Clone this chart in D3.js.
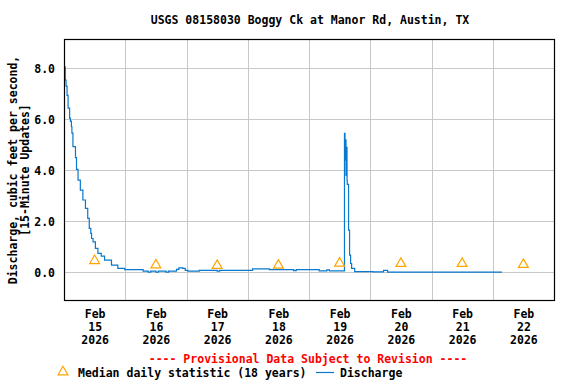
<!DOCTYPE html>
<html>
<head>
<meta charset="utf-8">
<script src="https://cdn.jsdelivr.net/npm/d3@7"></script>
<style>
  body { margin: 0; background: #fff; }
  text { font-family: "DejaVu Sans Mono", "Liberation Mono", monospace; font-weight: bold; fill: #000; }
</style>
</head>
<body>
<div id="vis"></div>
<script>
// hours after Feb 15 2026 00:00, discharge in cfs
var flowHours = [0.3, 0.5, 0.8, 1.2, 1.6, 2.2, 2.5, 2.9, 3.1, 3.5, 4.5, 4.9, 5.5, 6.4, 7.4, 8.4, 9.3, 9.9, 10.5, 10.8, 11.4, 12.3, 13.3, 14.6, 15.9, 18.6, 21.1, 23.8,
    31, 33, 34, 36, 37, 40, 41, 44.1, 45, 46.5, 47.5, 48.5, 53, 60, 61, 73.9, 80.5, 90, 91, 100, 103, 104, 106,
    109.9, 110.1, 110.3, 110.5, 110.7, 110.9, 111.0, 111.5, 111.9, 112.3, 112.7, 113.9, 121, 125.2, 126.8, 171.6];
var flowValues = [8.06, 7.54, 7.30, 6.94, 6.44, 6.05, 5.93, 5.71, 5.46, 4.93, 4.50, 4.04, 3.62, 3.23, 2.84, 2.51, 2.12, 1.73, 1.53, 1.33, 1.20, 0.94, 0.75, 0.64, 0.48, 0.29, 0.16, 0.11,
    0.05, 0.01, 0.05, 0.01, 0.05, 0.01, 0.05, 0.12, 0.18, 0.16, 0.08, 0.05, 0.08, 0.05, 0.08, 0.14, 0.11, 0.07, 0.11, 0.06, 0.10, 0.06, 0.06,
    5.45, 4.4, 5.2, 3.8, 4.9, 3.6, 3.45, 1.66, 0.68, 0.35, 0.16, 0.03, 0.02, 0.08, 0.01, 0.01];

var medianDays = [15, 16, 17, 18, 19, 20, 21, 22];
var medianValues = [0.46, 0.29, 0.27, 0.28, 0.36, 0.35, 0.35, 0.31];

var yTicks = [0, 2, 4, 6, 8];
var dayTicks = [15, 16, 17, 18, 19, 20, 21, 22];
var gridDays = [16, 17, 18, 19, 20, 21, 22];

var W = 576, H = 384;
var margin = { top: 39, left: 64, right: 22, bottom: 84 };
var width = W - margin.left - margin.right;
var height = H - margin.top - margin.bottom;

function day(d, h) { return new Date(2026, 1, d, 0, 0) .getTime() + (h || 0) * 3600000; }

var x = d3.scaleTime()
    .domain([day(15), day(23)])
    .range([0, width]);
var y = d3.scaleLinear()
    .domain([-1.08, 9.15])
    .range([height, 0]);

var svg = d3.select('#vis').append('svg')
    .attr('width', W).attr('height', H);

svg.append('text')
    .attr('x', 310).attr('y', 20)
    .attr('text-anchor', 'middle').attr('dominant-baseline', 'central')
    .style('font-size', '11.5px')
    .text('USGS 08158030 Boggy Ck at Manor Rd, Austin, TX');

var g = svg.append('g')
    .attr('transform', 'translate(' + margin.left + ',' + margin.top + ')');

// grid
g.selectAll('.hgrid').data(yTicks).enter().append('line')
    .attr('x1', 0).attr('x2', width)
    .attr('y1', function (d) { return Math.round(y(d)) + 0.5; })
    .attr('y2', function (d) { return Math.round(y(d)) + 0.5; })
    .attr('stroke', '#c8c8c8');
g.selectAll('.vgrid').data(gridDays).enter().append('line')
    .attr('y1', 0).attr('y2', height)
    .attr('x1', function (d) { return Math.round(x(day(d))) + 0.5; })
    .attr('x2', function (d) { return Math.round(x(day(d))) + 0.5; })
    .attr('stroke', '#c8c8c8');

// discharge
var flow = flowHours.map(function (h, i) { return { t: day(15, h), v: flowValues[i] }; });
var line = d3.line()
    .x(function (d) { return x(d.t); })
    .y(function (d) { return y(d.v); })
    .curve(d3.curveStepAfter);
g.append('path').datum(flow)
    .attr('d', line)
    .attr('fill', 'none')
    .attr('stroke', '#0a78cc')
    .attr('stroke-width', 1.2);

// medians
var tri = d3.symbol().type(d3.symbolTriangle).size(42);
g.selectAll('.med').data(medianDays).enter().append('path')
    .attr('d', tri)
    .attr('transform', function (d, i) { return 'translate(' + x(day(d, 12)) + ',' + y(medianValues[i]) + ')'; })
    .attr('fill', 'none')
    .attr('stroke', '#ffa500')
    .attr('stroke-width', 1.2);

// frame
g.append('rect')
    .attr('x', 0.5).attr('y', 0.5)
    .attr('width', width).attr('height', height)
    .attr('fill', 'none').attr('stroke', '#000').attr('stroke-width', 1.2);

// axes
var yAxis = g.append('g').call(d3.axisLeft(y).tickValues(yTicks).tickSize(0).tickPadding(9).tickFormat(d3.format('.1f')));
yAxis.select('.domain').remove();
yAxis.selectAll('text').style('font-size', '11.5px');

var xAxis = g.append('g')
    .attr('transform', 'translate(0,' + height + ')')
    .call(d3.axisBottom(x).tickValues(dayTicks.map(function (d) { return day(d, 12); })).tickSize(0).tickFormat(''));
xAxis.select('.domain').remove();
xAxis.selectAll('.tick').each(function (d, i) {
    var t = d3.select(this).append('text')
        .attr('text-anchor', 'middle')
        .style('font-size', '11.5px');
    ['Feb', String(dayTicks[i]), '2026'].forEach(function (s, k) {
        t.append('tspan').attr('x', 0).attr('y', 14 + k * 13).attr('dominant-baseline', 'central').text(s);
    });
});

// y label
var yl = svg.append('text')
    .attr('transform', 'translate(13,170) rotate(-90)')
    .attr('text-anchor', 'middle')
    .style('font-size', '11.5px');
yl.append('tspan').attr('x', 0).attr('y', 0).attr('dominant-baseline', 'central').text('Discharge, cubic feet per second,');
yl.append('tspan').attr('x', 0).attr('y', 12).attr('dominant-baseline', 'central').text('[15-Minute Updates]');

svg.append('text')
    .attr('x', 308).attr('y', 359)
    .attr('text-anchor', 'middle').attr('dominant-baseline', 'central')
    .style('font-size', '11.5px').style('fill', '#ff0000')
    .text('---- Provisional Data Subject to Revision ----');

// legend
svg.append('path').attr('d', tri)
    .attr('transform', 'translate(63,372)')
    .attr('fill', 'none').attr('stroke', '#ffa500').attr('stroke-width', 1.2);
svg.append('text')
    .attr('x', 78).attr('y', 373).attr('dominant-baseline', 'central')
    .style('font-size', '11.5px')
    .text('Median daily statistic (18 years)');
svg.append('line')
    .attr('x1', 316).attr('x2', 334).attr('y1', 372.5).attr('y2', 372.5)
    .attr('stroke', '#0a78cc').attr('stroke-width', 1.2);
svg.append('text')
    .attr('x', 340).attr('y', 373).attr('dominant-baseline', 'central')
    .style('font-size', '11.5px')
    .text('Discharge');
</script>
</body>
</html>
